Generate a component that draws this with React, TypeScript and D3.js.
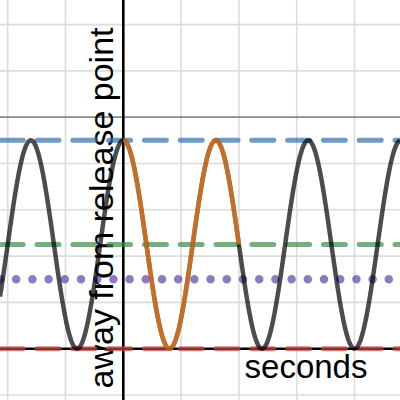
import React from "react";
import * as d3 from "d3";

// ---- data ----
const X_DOMAIN = [-2.1332, 4.7872];
const Y_DOMAIN = [-1.108, 7.531];
const MINOR_X = [-2, -1, 1, 2, 3, 4];
const MINOR_Y = [-1, 1, 2, 3, 4, 6, 7];
const MAJOR_Y = [5];

const LEVELS = [4.5, 2.25, 1.5, 0];
const LEVEL_COLORS = ["#2d70b3", "#388c46", "#6042a6", "#c74440"];
const LEVEL_STYLES = ["dashed", "dashed", "dotted", "dashed"];

const WAVE_MIDLINE = 2.25;
const WAVE_AMPLITUDE = 2.25;
const WAVE_PERIOD = 1.6;
const HIGHLIGHT_RANGE = [0, 2];

const X_LABEL = "seconds";
const Y_LABEL = "away from release point";

const W = 400;
const H = 400;

export default function App() {
  const x = d3.scaleLinear().domain(X_DOMAIN).range([0, W]);
  const y = d3.scaleLinear().domain(Y_DOMAIN).range([H, 0]);

  const f = (t: number) =>
    WAVE_MIDLINE + WAVE_AMPLITUDE * Math.cos((2 * Math.PI * t) / WAVE_PERIOD);

  const line = d3
    .line<number>()
    .x((t) => x(t))
    .y((t) => y(f(t)));

  const n = 800;
  const full = d3.range(n + 1).map((i) => X_DOMAIN[0] + ((X_DOMAIN[1] - X_DOMAIN[0]) * i) / n);
  const part = d3
    .range(301)
    .map((i) => HIGHLIGHT_RANGE[0] + ((HIGHLIGHT_RANGE[1] - HIGHLIGHT_RANGE[0]) * i) / 300);

  return (
    <svg
      width={W}
      height={H}
      style={{ position: "absolute", left: 0, top: 0, background: "#fff" }}
    >
      <rect width={W} height={H} fill="#fff" />
      {/* minor grid */}
      {MINOR_X.map((v) => (
        <line key={"gx" + v} x1={x(v)} x2={x(v)} y1={0} y2={H} stroke="#dcdcdc" strokeWidth={1.6} />
      ))}
      {MINOR_Y.map((v) => (
        <line key={"gy" + v} x1={0} x2={W} y1={y(v)} y2={y(v)} stroke="#dcdcdc" strokeWidth={1.6} />
      ))}
      {MAJOR_Y.map((v) => (
        <line key={"my" + v} x1={0} x2={W} y1={y(v)} y2={y(v)} stroke="#8a8a8a" strokeWidth={1.8} />
      ))}
      {/* axes */}
      <line x1={x(0)} x2={x(0)} y1={0} y2={H} stroke="#000" strokeWidth={2.6} />
      <line x1={0} x2={W} y1={y(0)} y2={y(0)} stroke="#000" strokeWidth={2.6} />

      {/* labels */}
      <text
        x={306}
        y={378}
        textAnchor="middle"
        fontFamily="'Liberation Sans', Arial, sans-serif"
        fontSize={33}
        fill="#000"
      >
        {X_LABEL}
      </text>
      <text
        transform="translate(113,208) rotate(-90)"
        textAnchor="middle"
        fontFamily="'Liberation Sans', Arial, sans-serif"
        fontSize={34}
        fill="#000"
      >
        {Y_LABEL}
      </text>

      {/* horizontal reference levels */}
      {LEVELS.map((v, i) => {
        const dotted = LEVEL_STYLES[i] === "dotted";
        return (
          <line
            key={"lv" + i}
            x1={0}
            x2={W}
            y1={y(v)}
            y2={y(v)}
            stroke={LEVEL_COLORS[i]}
            strokeOpacity={0.7}
            strokeWidth={dotted ? 8.5 : 5}
            strokeLinecap="round"
            strokeDasharray={dotted ? "0 16.2" : "22 13.8"}
            strokeDashoffset={dotted ? 0 : -1.2}
          />
        );
      })}

      {/* wave */}
      <path d={line(full) || ""} fill="none" stroke="#000" strokeOpacity={0.7} strokeWidth={4.5} strokeLinejoin="round" />
      <path d={line(part) || ""} fill="none" stroke="#fa7e19" strokeOpacity={0.7} strokeWidth={4.5} strokeLinejoin="round" />
    </svg>
  );
}
